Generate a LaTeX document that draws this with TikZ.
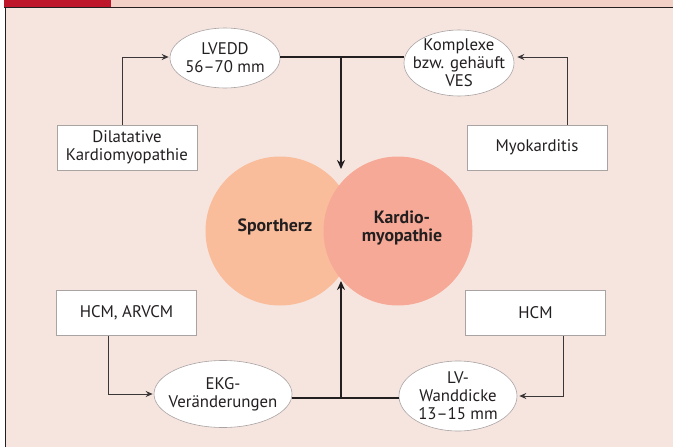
\documentclass[tikz,border=0pt]{standalone}
\usepackage{fontspec}
\setmainfont{PT Sans}
\usetikzlibrary{shapes.geometric,arrows.meta}
\definecolor{bgpink}{RGB}{246,229,223}
\definecolor{strip}{RGB}{242,208,197}
\definecolor{redbar}{RGB}{190,22,42}
\definecolor{peach}{RGB}{249,189,155}
\definecolor{salmon}{RGB}{246,169,150}
\definecolor{ink}{RGB}{35,31,32}
\definecolor{boxgray}{RGB}{170,163,163}
\definecolor{linegray}{RGB}{58,53,54}
\tikzset{
  x=1pt,y=-1pt,
  lbl/.style={font=\fontsize{16.8}{18}\selectfont,text=ink,align=center},
  rbox/.style={lbl,rectangle,draw=boxgray,fill=white,line width=0.8pt,minimum width=140pt,minimum height=45pt,inner sep=0pt},
  ell/.style={lbl,ellipse,draw=boxgray,fill=white,line width=0.6pt,inner xsep=-20pt,inner ysep=-12pt},
  thinarr/.style={draw=linegray,line width=1pt,-{Stealth[length=7pt,width=6pt]}},
  thickline/.style={draw=ink,line width=2pt},
  thickarr/.style={draw=ink,line width=2pt,-{Stealth[length=9pt,width=8pt]}},
  circ/.style={circle,inner sep=0pt,minimum size=149pt},
  boldlbl/.style={font=\bfseries\fontsize{17.8}{18.5}\selectfont,text=ink,align=center}
}
\begin{document}
\begin{tikzpicture}
\useasboundingbox (0,0) rectangle (673,447);
% background
\fill[white] (0,0) rectangle (673,447);
\fill[bgpink] (5,7) rectangle (673,447);
\fill[strip] (4,0) rectangle (673,7);
\fill[redbar] (4,0) rectangle (111,7);
\draw[ink,line width=1pt] (4,7.5) -- (673,7.5);
\draw[ink,line width=1pt] (5,7) -- (5,447);

% circles
\node[circ,fill=peach] (sport) at (280,231) {};
\node[circ,fill=salmon] (kardio) at (398,231) {};
\node[boldlbl] (sporttxt) at (275,227) {Sportherz};
\node[boldlbl] (kardiotxt) at (402,228) {Kardio-\\myopathie};

% top ellipses
\node[ell,minimum width=110pt,minimum height=60pt] (lvedd) at (225,58) {LVEDD\\56–70 mm};
\node[ell,minimum width=110pt,minimum height=66pt] (kompl) at (459,63) {Komplexe\\bzw. gehäuft\\VES};

% top boxes
\node[rbox] (dil) at (127,147.5) {Dilatative\\Kardiomyopathie};
\node[rbox] (myo) at (537,147.5) {Myokarditis};

% bottom boxes
\node[rbox] (hcma) at (126.5,313) {HCM, ARVCM};
\node[rbox] (hcm) at (535.5,313) {HCM};

% bottom ellipses
\node[ell,minimum width=138pt,minimum height=67pt] (ekg) at (223,394) {EKG-\\Veränderungen};
\node[ell,minimum width=118pt,minimum height=70pt] (lv) at (458,396) {LV-\\Wanddicke\\13–15 mm};

% junction coordinates
\coordinate (jtop) at (341,57);
\coordinate (ctop) at (341,169);
\coordinate (cbot) at (341,281);
\coordinate (jbot) at (341,397.5);

% top connectors
\draw[thickline] (lvedd.east |- jtop) -- (kompl.west |- jtop);
\draw[thickarr] (jtop) -- (ctop);
\draw[thinarr,shorten >=1pt] ([xshift=-5pt]dil.north) |- (lvedd.west |- jtop);
\draw[thinarr,shorten >=3pt] ([xshift=30pt]myo.north) |- (kompl.east |- jtop);

% bottom connectors
\draw[thickline] (ekg.east |- jbot) -- (lv.west |- jbot);
\draw[thickarr] (jbot) -- (cbot);
\draw[thinarr,shorten >=1pt] ([xshift=-18.5pt]hcma.south) |- (ekg.west);
\draw[thinarr,shorten >=2pt] ([xshift=27.5pt]hcm.south) |- (lv.east);
\end{tikzpicture}
\end{document}
